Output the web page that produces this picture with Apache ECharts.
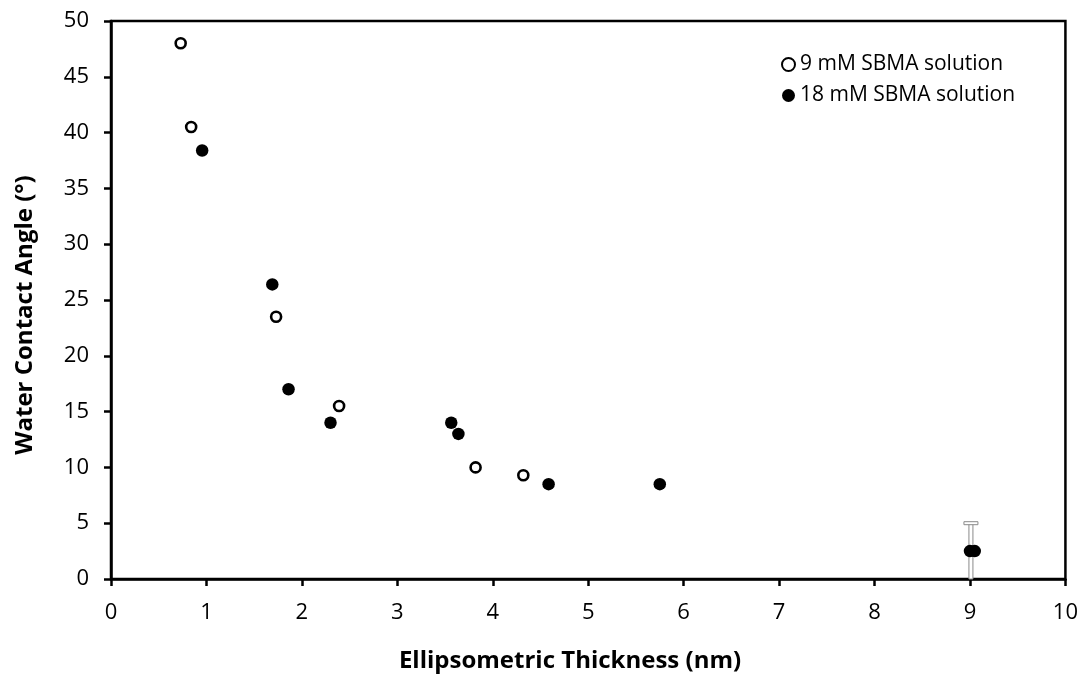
<!DOCTYPE html>
<html>
<head>
<meta charset="utf-8">
<script src="https://cdn.jsdelivr.net/npm/echarts@6/dist/echarts.min.js"></script>
<style>
  html, body { margin: 0; padding: 0; background: #fff; }
  #chart { width: 1081px; height: 675px; }
</style>
</head>
<body>
<div id="chart"></div>
<script>
// Water contact angle versus ellipsometric film thickness for two SBMA concentrations
const series9mMX = [0.73, 0.84, 1.73, 2.39, 3.82, 4.32];
const series9mMY = [48.0, 40.5, 23.5, 15.5, 10.0, 9.3];
const series18mMX = [0.955, 1.69, 1.86, 2.30, 3.565, 3.64, 4.585, 5.75, 9.00, 9.05];
const series18mMY = [38.4, 26.4, 17.0, 14.0, 14.0, 13.0, 8.5, 8.5, 2.5, 2.5];
// error bar on the thickest film: x, low, high
const errorX = [9.01];
const errorLow = [0.0];
const errorHigh = [5.0];
const xTicks = [0, 1, 2, 3, 4, 5, 6, 7, 8, 9, 10];
const yTicks = [0, 5, 10, 15, 20, 25, 30, 35, 40, 45, 50];

const FONT = 'Open Sans';
const toPairs = (xs, ys) => xs.map((x, i) => [x, ys[i]]);

const chart = echarts.init(document.getElementById('chart'), null, { renderer: 'canvas' });

const axisCommon = {
  axisLine: { show: true, onZero: false, lineStyle: { color: '#000', width: 2.5 } },
  axisTick: { show: true, inside: false, length: 7, lineStyle: { color: '#000', width: 2.5 } },
  splitLine: { show: false },
  axisLabel: { color: '#000', fontFamily: FONT, fontSize: 22 }
};

chart.setOption({
  backgroundColor: '#fff',
  animation: false,
  grid: {
    left: 111, right: 14, top: 21, bottom: 96,
    show: true, borderColor: '#000', borderWidth: 2.5, backgroundColor: 'transparent'
  },
  xAxis: Object.assign({}, axisCommon, {
    type: 'value',
    min: xTicks[0], max: xTicks[xTicks.length - 1], interval: 1,
    axisLabel: Object.assign({}, axisCommon.axisLabel, { margin: 23 })
  }),
  yAxis: Object.assign({}, axisCommon, {
    type: 'value',
    min: yTicks[0], max: yTicks[yTicks.length - 1], interval: 5,
    axisLabel: Object.assign({}, axisCommon.axisLabel, { margin: 22 })
  }),
  legend: {
    orient: 'vertical',
    left: 776, top: 49,
    itemWidth: 13, itemHeight: 13, itemGap: 10,
    textStyle: { color: '#000', fontFamily: FONT, fontSize: 21 },
    data: [
      { name: '9 mM SBMA solution', icon: 'circle' },
      { name: '18 mM SBMA solution', icon: 'circle' }
    ]
  },
  graphic: [
    {
      type: 'text',
      x: 570, y: 661,
      style: {
        text: 'Ellipsometric Thickness (nm)',
        x: 0, y: 0, align: 'center', verticalAlign: 'middle',
        fontFamily: FONT, fontWeight: 'bold', fontSize: 24, fill: '#000'
      }
    },
    {
      type: 'text',
      x: 25, y: 315, rotation: Math.PI / 2,
      style: {
        text: 'Water Contact Angle (°)',
        x: 0, y: 0, align: 'center', verticalAlign: 'middle',
        fontFamily: FONT, fontWeight: 'bold', fontSize: 24, fill: '#000'
      }
    }
  ],
  series: [
    {
      name: 'error',
      type: 'custom',
      z: 1,
      silent: true,
      data: errorX.map((x, i) => [x, errorLow[i], errorHigh[i]]),
      renderItem: function (params, api) {
        const lo = api.coord([api.value(0), api.value(1)]);
        const hi = api.coord([api.value(0), api.value(2)]);
        const w = 4, capW = 14, capH = 3;
        return {
          type: 'group',
          children: [
            {
              type: 'rect',
              shape: { x: lo[0] - w / 2, y: hi[1], width: w, height: lo[1] - hi[1] },
              style: { fill: '#fff', stroke: '#8a8a8a', lineWidth: 1 }
            },
            {
              type: 'rect',
              shape: { x: hi[0] - capW / 2, y: hi[1] - capH / 2, width: capW, height: capH },
              style: { fill: '#fff', stroke: '#8a8a8a', lineWidth: 1 }
            }
          ]
        };
      }
    },
    {
      name: '9 mM SBMA solution',
      type: 'scatter',
      z: 3,
      symbol: 'circle',
      symbolSize: 10,
      itemStyle: { color: '#fff', borderColor: '#000', borderWidth: 2.6, opacity: 1 },
      data: toPairs(series9mMX, series9mMY)
    },
    {
      name: '18 mM SBMA solution',
      type: 'scatter',
      z: 4,
      symbol: 'circle',
      symbolSize: 12.5,
      itemStyle: { color: '#000', opacity: 1 },
      data: toPairs(series18mMX, series18mMY)
    }
  ]
});
</script>
</body>
</html>
